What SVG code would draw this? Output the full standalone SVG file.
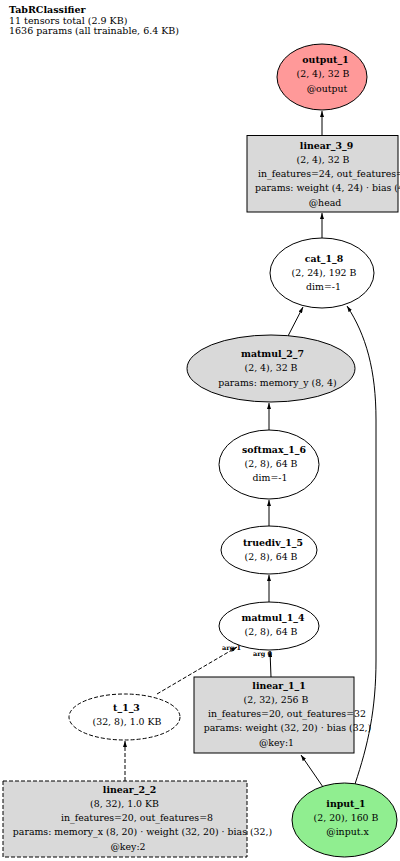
<svg xmlns="http://www.w3.org/2000/svg" width="400" height="861" viewBox="0 0 400 861">
<style>
text{font-family:"DejaVu Serif","Liberation Serif",serif;font-size:9.4px;fill:#000}
.c{text-anchor:middle}
.b{font-weight:bold}
.hd{font-size:9.5px}
.lbl{font-size:6.5px;font-weight:bold}
.n{stroke:#000;stroke-width:1}
.gray{fill:#d9d9d9}
.white{fill:#fff}
.dash{stroke-dasharray:4,2}
.e{fill:none;stroke:#000;stroke-width:1}
</style>
<defs>
<marker id="ah" viewBox="0 0 6 4" refX="6" refY="2" markerWidth="6" markerHeight="4" markerUnits="userSpaceOnUse" orient="auto">
<path d="M0,0 L6,2 L0,4 z" fill="#000"/>
</marker>
</defs>
<rect width="400" height="861" fill="#fff"/>
<g id="header">
<text x="9" y="13" class="hd b">TabRClassifier</text>
<text x="9" y="23.5" class="hd">11 tensors total (2.9 KB)</text>
<text x="9" y="34" class="hd">1636 params (all trainable, 6.4 KB)</text>
</g>
<g id="edges">
<path class="e" d="M322,135 L322,111" marker-end="url(#ah)"/>
<path class="e" d="M322,238 L322,213" marker-end="url(#ah)"/>
<path class="e" d="M288,336 L303,307" marker-end="url(#ah)"/>
<path class="e" d="M269,430 L269,403" marker-end="url(#ah)"/>
<path class="e" d="M269,526 L269,500" marker-end="url(#ah)"/>
<path class="e" d="M269,602 L269,575" marker-end="url(#ah)"/>
<path class="e" d="M271,677 L270,651" marker-end="url(#ah)"/>
<path class="e dash" d="M157,694 L237,647" marker-end="url(#ah)"/>
<path class="e dash" d="M125,781 L125,741" marker-end="url(#ah)"/>
<path class="e" d="M323,787 L301,755" marker-end="url(#ah)"/>
<path class="e" d="M355,784 C368,745 376,710 376,660 L376,420 C376,370 366,335 347,306" marker-end="url(#ah)"/>
<text x="222" y="650" class="lbl">arg 1</text>
<text x="253" y="656" class="lbl">arg 0</text>
</g>
<g id="output_1">
<ellipse cx="322" cy="77" rx="45" ry="33" fill="#ff9999" class="n"/>
<text x="325.5" y="63" class="c b">output_1</text>
<text x="323" y="77.3" class="c">(2, 4), 32 B</text>
<text x="327" y="91.6" class="c">@output</text>
</g>
<g id="linear_3_9">
<rect x="247" y="135.5" width="151" height="76.5" class="n gray"/>
<text x="326.5" y="148.5" class="c b">linear_3_9</text>
<text x="323" y="162.8" class="c">(2, 4), 32 B</text>
<text x="258" y="177.1">in_features=24, out_features=4</text>
<text x="255" y="191.4">params: weight (4, 24) · bias (4,)</text>
<text x="325" y="205.7" class="c">@head</text>
</g>
<g id="cat_1_8">
<ellipse cx="322" cy="273" rx="52" ry="35" class="n white"/>
<text x="324" y="261.5" class="c b">cat_1_8</text>
<text x="324" y="275.8" class="c">(2, 24), 192 B</text>
<text x="323.5" y="290.1" class="c">dim=-1</text>
</g>
<g id="matmul_2_7">
<ellipse cx="271" cy="368.5" rx="84" ry="33.5" class="n gray"/>
<text x="272.5" y="357" class="c b">matmul_2_7</text>
<text x="271" y="371.3" class="c">(2, 4), 32 B</text>
<text x="277.5" y="385.6" class="c">params: memory_y (8, 4)</text>
</g>
<g id="softmax_1_6">
<ellipse cx="269" cy="464.5" rx="50" ry="34.5" class="n white"/>
<text x="274" y="452.5" class="c b">softmax_1_6</text>
<text x="271" y="466.8" class="c">(2, 8), 64 B</text>
<text x="270" y="481.1" class="c">dim=-1</text>
</g>
<g id="truediv_1_5">
<ellipse cx="269" cy="550" rx="48" ry="24" class="n white"/>
<text x="273" y="545.5" class="c b">truediv_1_5</text>
<text x="271" y="559.8" class="c">(2, 8), 64 B</text>
</g>
<g id="matmul_1_4">
<ellipse cx="269" cy="626" rx="50" ry="24" class="n white"/>
<text x="273" y="620.5" class="c b">matmul_1_4</text>
<text x="271" y="634.8" class="c">(2, 8), 64 B</text>
</g>
<g id="linear_1_1">
<rect x="194" y="677" width="160" height="76" class="n gray"/>
<text x="279" y="688.5" class="c b">linear_1_1</text>
<text x="276" y="702.8" class="c">(2, 32), 256 B</text>
<text x="287" y="717.1" class="c">in_features=20, out_features=32</text>
<text x="287.5" y="731.4" class="c">params: weight (32, 20) · bias (32,)</text>
<text x="276.5" y="745.7" class="c">@key:1</text>
</g>
<g id="t_1_3">
<ellipse cx="124.5" cy="717" rx="55.5" ry="23" class="n white dash"/>
<text x="126.5" y="710.5" class="c b">t_1_3</text>
<text x="127" y="724.8" class="c">(32, 8), 1.0 KB</text>
</g>
<g id="linear_2_2">
<rect x="3" y="781" width="244" height="76" class="n gray dash"/>
<text x="129.5" y="792.5" class="c b">linear_2_2</text>
<text x="124.5" y="806.8" class="c">(8, 32), 1.0 KB</text>
<text x="137" y="821.1" class="c">in_features=20, out_features=8</text>
<text x="142.5" y="835.4" class="c">params: memory_x (8, 20) · weight (32, 20) · bias (32,)</text>
<text x="128" y="849.7" class="c">@key:2</text>
</g>
<g id="input_1">
<ellipse cx="344.5" cy="820" rx="52.5" ry="37" fill="#90ee90" class="n"/>
<text x="346" y="806.5" class="c b">input_1</text>
<text x="346" y="820.8" class="c">(2, 20), 160 B</text>
<text x="347.5" y="835.1" class="c">@input.x</text>
</g>
</svg>
